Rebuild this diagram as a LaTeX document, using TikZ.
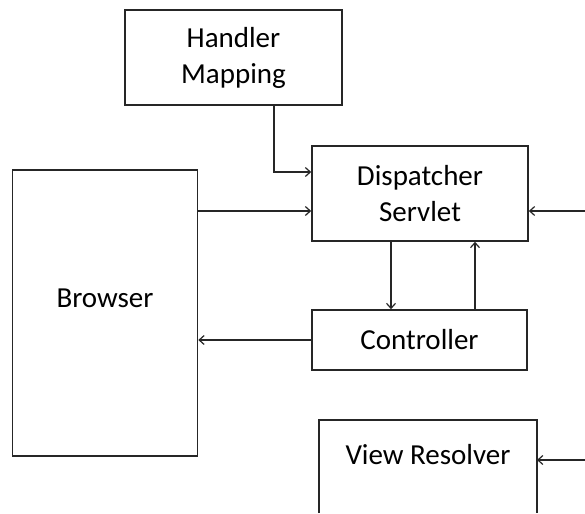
\documentclass[tikz,border=0pt]{standalone}
\usepackage{fontspec}
\setmainfont{Carlito}
\usetikzlibrary{arrows.meta,calc}
\begin{document}
\begin{tikzpicture}[x=1pt,y=-1pt,
  box/.style={draw=black!85,line width=1.6pt,rectangle,inner sep=0pt,align=center,
    font=\fontsize{29}{36}\selectfont},
  lbl/.style={inner sep=0pt,font=\fontsize{29}{36}\selectfont},
  arr/.style={draw=black!85,line width=1.5pt,-{Straight Barb[length=5pt,width=9pt,line width=1.2pt]}},
  ln/.style={draw=black!85,line width=1.6pt}]
\useasboundingbox (0,0) rectangle (585,513);
\node[box,minimum width=217pt,minimum height=95pt] (hm) at (233.5,57.5) {Handler\\Mapping};
\node[box,minimum width=216pt,minimum height=95pt] (ds) at (420,193.5) {Dispatcher\\Servlet};
\node[box,minimum width=185pt,minimum height=286pt] (br) at (105,313) {};
\node[lbl] (brt) at (105,298) {Browser};
\node[box,minimum width=215pt,minimum height=60pt] (ct) at (419.5,340) {Controller};
\draw[ln] (319,513) -- (319,420) -- (537,420) -- (537,513);
\node[lbl] (vrt) at (428,455) {View Resolver};
\coordinate (vre) at (537,460);
\coordinate (vin) at (585,460);
\coordinate (din) at (585,211);
\coordinate (hmtip) at ([yshift=21.5pt]ds.west);
\coordinate (brtip) at ([yshift=-17.5pt]ds.west);
\coordinate (dsdown) at ([xshift=-29pt]ds.south);
\coordinate (dsup) at ([xshift=55pt]ds.south);
% connectors
\draw[arr] ([xshift=40.5pt]hm.south) |- (hmtip);
\draw[arr] (br.east |- brtip) -- (brtip);
\draw[arr] (din) -- (din -| ds.east);
\draw[arr] (dsdown) -- (dsdown |- ct.north);
\draw[arr] (dsup |- ct.north) -- (dsup);
\draw[arr] (ct.west) -- (ct.west -| br.east);
\draw[arr] (vin) -- (vre);
\end{tikzpicture}
\end{document}
